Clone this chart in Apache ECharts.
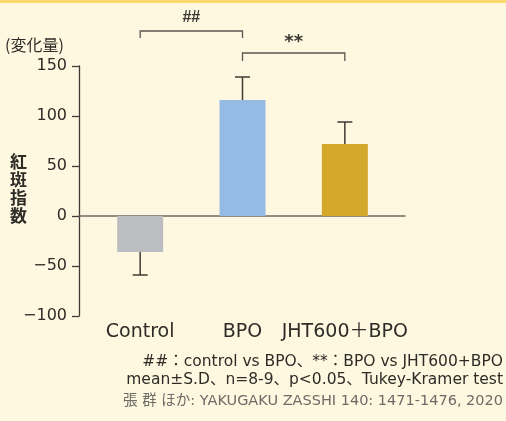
<!DOCTYPE html>
<html><head><meta charset="utf-8">
<script src="https://cdn.jsdelivr.net/npm/echarts@6/dist/echarts.min.js"></script>
<style>html,body{margin:0;padding:0;background:#fef8e1}#c{width:506px;height:421px}</style>
</head><body><div id="c"></div>
<script>
// ---- data ----
const categories = ['Control', 'BPO', 'JHT600＋BPO'];
const means = [-36, 116, 72];
const sds = [23, 23, 22];
const barColors = ['#bcbdc1', '#95bae4', '#d4a82a'];
const yTicks = { min: -100, max: 150, step: 50 };
// brackets: [from category, to category, bracket top value, tick end value, label, label value]
const brackets = [
  [0, 1, 185, 178, '##', 198],
  [1, 2, 163, 155, '**', 174]
];
const unitLabel = '(変化量)';
const yTitle = '紅斑指数';
const notes = ['##：control vs BPO、**：BPO vs JHT600+BPO', 'mean±S.D、n=8-9、p<0.05、Tukey-Kramer test'];
const source = '張 群 ほか: YAKUGAKU ZASSHI 140: 1471-1476, 2020';

const FONT = '"DejaVu Sans", "Noto Sans CJK JP", sans-serif';
const CJK = '"Noto Sans CJK JP", sans-serif';
const INK = '#3f3a35';
const TXT = '#2f2b27';
const chart = echarts.init(document.getElementById('c'), null, { renderer: 'canvas' });

const option = {
  backgroundColor: '#fef8e1',
  animation: false,
  grid: [
    { left: 79, right: 101, top: 66, bottom: 105 },
    { left: 89, right: 110, top: 66, bottom: 105 }
  ],
  xAxis: [
    { gridIndex: 0, type: 'category', data: [''], axisLine: { onZero: true, lineStyle: { color: '#6e6862', width: 1.5 } },
      axisTick: { show: false }, axisLabel: { show: false }, splitLine: { show: false } },
    { gridIndex: 1, type: 'category', data: categories, position: 'bottom',
      axisLine: { show: false, onZero: false }, axisTick: { show: false },
      axisLabel: { interval: 0, hideOverlap: false, color: TXT, fontSize: 19, fontFamily: FONT, margin: 7 } }
  ],
  yAxis: [
    { gridIndex: 0, type: 'value', min: yTicks.min, max: yTicks.max, interval: yTicks.step,
      axisLine: { show: true, lineStyle: { color: INK, width: 1.3 } },
      axisTick: { show: true, length: 7, lineStyle: { color: INK, width: 1.3 } },
      splitLine: { show: false },
      axisLabel: { color: TXT, fontSize: 16, fontFamily: FONT, margin: 12,
        formatter: v => String(v).replace('-', '−') } },
    { gridIndex: 1, type: 'value', min: yTicks.min, max: yTicks.max, interval: yTicks.step, show: false }
  ],
  series: [
    { type: 'bar', xAxisIndex: 1, yAxisIndex: 1, barWidth: 46,
      data: means.map((v, i) => ({ value: v, itemStyle: { color: barColors[i] } })) },
    { type: 'custom', xAxisIndex: 1, yAxisIndex: 1, z: 5,
      data: means.map((m, i) => [i, m, sds[i]]),
      renderItem: (params, api) => {
        const i = api.value(0), m = api.value(1), sd = api.value(2);
        const end = m >= 0 ? m + sd : m - sd;
        const p0 = api.coord([i, m]), p1 = api.coord([i, end]);
        const st = { stroke: INK, lineWidth: 1.5, fill: null };
        return { type: 'group', children: [
          { type: 'line', shape: { x1: p0[0], y1: p0[1], x2: p1[0], y2: p1[1] }, style: st },
          { type: 'line', shape: { x1: p1[0] - 7.5, y1: p1[1], x2: p1[0] + 7.5, y2: p1[1] }, style: st }
        ]};
      } },
    { type: 'custom', xAxisIndex: 1, yAxisIndex: 1, clip: false, z: 5,
      data: brackets,
      renderItem: (params, api) => {
        const b = brackets[params.dataIndex];
        const a = api.coord([b[0], b[2]]), c = api.coord([b[1], b[2]]);
        const a2 = api.coord([b[0], b[3]]), c2 = api.coord([b[1], b[3]]);
        const t = api.coord([(b[0] + b[1]) / 2, b[5]]);
        const star = b[4] === '**';
        return { type: 'group', children: [
          { type: 'polyline', shape: { points: [[a2[0], a2[1]], [a[0], a[1]], [c[0], c[1]], [c2[0], c2[1]]] },
            style: { stroke: '#5a5550', lineWidth: 1.3, fill: null } },
          { type: 'text', x: (a[0] + c[0]) / 2, y: t[1],
            style: { text: b[4], fontSize: star ? 18 : 16, fontWeight: 'bold',
              fontFamily: star ? FONT : '"Liberation Sans", sans-serif', fill: '#3a3632', align: 'center', verticalAlign: 'middle' } }
        ]};
      } }
  ],
  graphic: [
    { type: 'rect', left: 0, top: 0, shape: { width: 506, height: 3 }, style: { fill: '#fbd96a' } },
    { type: 'text', left: 5, top: 37, style: { text: unitLabel, fontSize: 16, fontFamily: CJK, fill: TXT } },
    { type: 'text', left: 10, top: 153, style: { text: yTitle.split('').join('\n'), fontSize: 17, lineHeight: 18, fontWeight: 'bold', fontFamily: CJK, fill: TXT } },
    { type: 'text', right: 3, top: 354, style: { text: notes[0], fontSize: 15.5, fontFamily: FONT, fill: TXT, align: 'right' } },
    { type: 'text', right: 3, top: 372, style: { text: notes[1], fontSize: 15.5, fontFamily: FONT, fill: TXT, align: 'right' } },
    { type: 'text', right: 3, top: 394, style: { text: source, fontSize: 14.5, fontFamily: FONT, fill: '#6e6a66', align: 'right' } }
  ]
};
chart.setOption(option);
</script></body></html>
